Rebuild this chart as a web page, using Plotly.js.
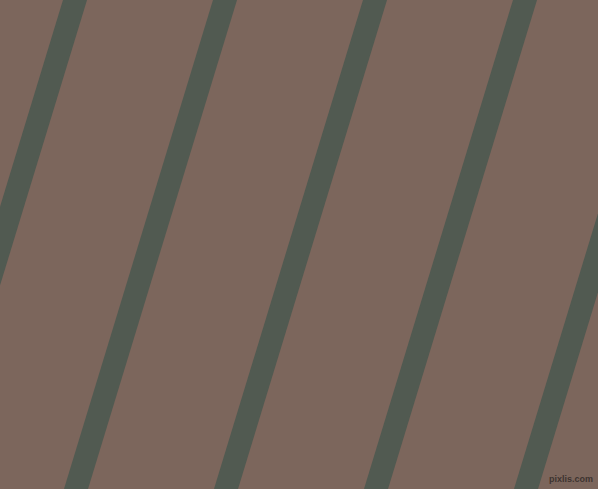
<!DOCTYPE html>
<html>
<head>
<meta charset="utf-8">
<script src="https://cdn.plot.ly/plotly-3.0.1.min.js"></script>
<style>html,body{margin:0;padding:0;background:#7c665c;overflow:hidden}#chart{width:598px;height:489px}</style>
</head>
<body>
<div id="chart"></div>
<script>
// Stripe centre x-positions where each stripe meets the top (y=0) and bottom (y=489) edges
const stripeTopX = [75, 225, 375, 525, 675];
const stripeBottomX = [-74, 76, 226, 376, 526];
const edgeY = [0, 489];
const watermark = "pixlis.com";

const bg = "#7c665c";
const stripeColor = "#515a51";

const traces = stripeTopX.map((xt, i) => {
  const xb = stripeBottomX[i];
  const slope = (xb - xt) / (edgeY[1] - edgeY[0]);
  const ext = 60;
  return {
    type: "scatter",
    mode: "lines",
    x: [xt - slope * ext, xb + slope * ext],
    y: [edgeY[0] - ext, edgeY[1] + ext],
    line: {color: stripeColor, width: 23},
    hoverinfo: "skip",
    showlegend: false
  };
});

const layout = {
  width: 598, height: 489,
  margin: {l: 0, r: 0, t: 0, b: 0, pad: 0},
  paper_bgcolor: bg, plot_bgcolor: bg,
  xaxis: {range: [0, 598], visible: false, fixedrange: true},
  yaxis: {range: [489, 0], visible: false, fixedrange: true},
  showlegend: false,
  annotations: [{
    text: "<b>" + watermark + "</b>", x: 1, y: 0, xref: "paper", yref: "paper",
    xanchor: "right", yanchor: "bottom", xshift: -3, yshift: 3,
    showarrow: false,
    font: {family: "Liberation Sans, Arial, sans-serif", size: 9, color: "#3e3430"}
  }]
};

Plotly.newPlot("chart", traces, layout, {displayModeBar: false, staticPlot: true});
</script>
</body>
</html>
